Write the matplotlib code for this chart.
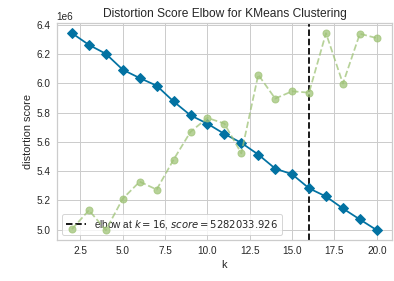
import matplotlib
matplotlib.use("Agg")
import matplotlib.pyplot as plt

# 数据
k_values = list(range(2, 21))
distortion = [6.343, 6.263, 6.202, 6.093, 6.036, 5.984, 5.876, 5.781, 5.724, 5.654,
              5.593, 5.513, 5.417, 5.378, 5.282, 5.226, 5.144, 5.069, 4.996]
fit_time = [0.0205, 0.0301, 0.0200, 0.0360, 0.0446, 0.0406, 0.0558, 0.0699, 0.0770, 0.0741,
            0.0590, 0.0989, 0.0868, 0.0905, 0.0898, 0.1200, 0.0944, 0.1197, 0.1175]
elbow_k = 16
elbow_score = 5282033.926

plt.rcParams['font.family'] = ['Liberation Sans', 'DejaVu Sans']
plt.rcParams['text.color'] = '.15'
plt.rcParams['axes.labelcolor'] = '.15'
plt.rcParams['xtick.color'] = '.15'
plt.rcParams['ytick.color'] = '.15'

blue = '#0272a2'
green = '#9fc377'

fig = plt.figure(figsize=(394 / 72, 281 / 72), dpi=72)
ax = fig.add_axes([0.144, 0.146, 0.851, 0.771])

ax.plot(k_values, [d * 1e6 for d in distortion], marker='D', color=blue,
        linewidth=1.75, markersize=7, zorder=3)
ax.axvline(elbow_k, c='k', linestyle='--', linewidth=1.75,
           label='elbow at $k = %d$, $score = %.3f$' % (elbow_k, elbow_score))

ax.set_title('Distortion Score Elbow for KMeans Clustering', fontsize=12)
ax.set_xlabel('k', fontsize=11)
ax.set_ylabel('distortion score', fontsize=11)
ax.tick_params(labelsize=10, length=0, pad=6)
ax.grid(True, color='.8', linewidth=1)
ax.set_axisbelow(True)
for s in ax.spines.values():
    s.set_color('.8')
    s.set_linewidth(1.25)

ax.legend(loc='lower left', fontsize=10, frameon=True, facecolor='white',
          edgecolor='.8', framealpha=0.8)

# 训练时间（第二个 y 轴，右侧标签在画布外）
ax2 = ax.twinx()
ax2.plot(k_values, fit_time, 'o--', color=green, alpha=0.75,
         linewidth=1.75, markersize=7)
ax2.set_yticks([])
ax2.grid(False)
for s in ax2.spines.values():
    s.set_visible(False)

fig.savefig('out.png', dpi=72)
